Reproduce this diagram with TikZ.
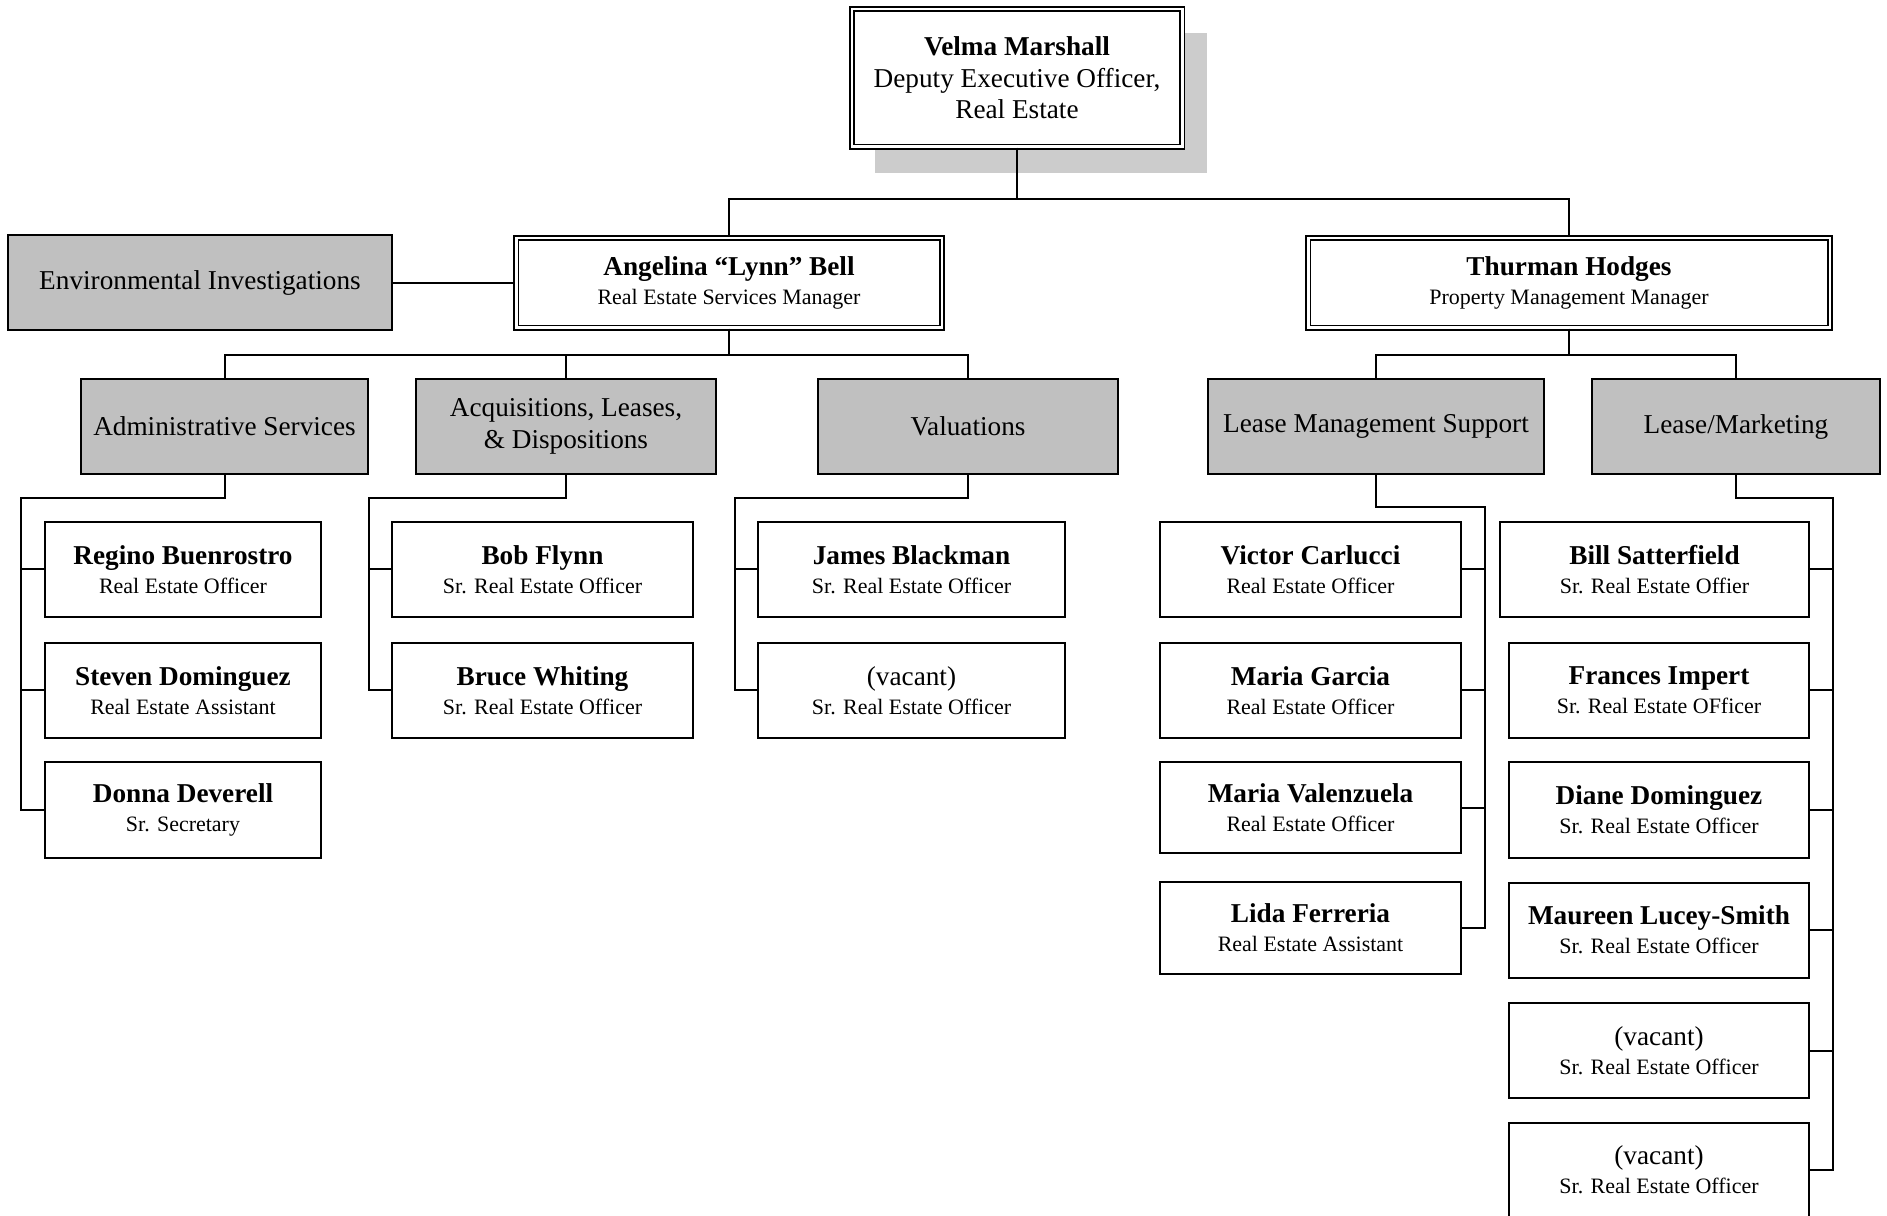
\documentclass[tikz,border=0pt]{standalone}
\usepackage{fontspec}
\setmainfont{Liberation Serif}
\usetikzlibrary{backgrounds}
\newcommand{\rolesize}{\fontsize{12.5}{15}\selectfont}

\begin{document}
\begin{tikzpicture}[
  x=0.2mm,
  y=-0.2mm,
  font=\fontsize{15.5}{16.5}\selectfont,
  box/.style={draw=black,line width=0.4mm,fill=white,align=center,
    inner sep=0pt,minimum height=19mm},
  head/.style={box,double=white,double distance=0.5mm,line width=0.35mm,
    minimum height=17.9mm},
  dept/.style={box,fill=deptgray,font=\fontsize{15.5}{18}\selectfont},
  staff/.style={box},
  link/.style={draw=black,line width=0.4mm}
]
  \definecolor{deptgray}{HTML}{C0C0C0}
  \definecolor{shadowgray}{HTML}{CCCCCC}

  \useasboundingbox (0,0) rectangle (1887,1216);

  \node[head,minimum width=66.1mm,minimum height=27.5mm,
    font=\fontsize{15.5}{18}\selectfont] (velma) at (1017,78)
    {\textbf{Velma Marshall}\\Deputy Executive Officer,\\Real Estate};
  \begin{scope}[on background layer]
    \fill[shadowgray] ([shift={(24,25)}]velma.south west)
      rectangle ([shift={(24,25)}]velma.north east);
  \end{scope}

  \node[head,minimum width=85.1mm] (bell) at (729,283)
    {\textbf{Angelina “Lynn” Bell}\\{\rolesize Real Estate Services Manager}};
  \node[head,minimum width=104.3mm] (hodges) at (1569,283)
    {\textbf{Thurman Hodges}\\{\rolesize Property Management Manager}};
  \node[dept,minimum width=76.8mm] (env) at (200,283)
    {Environmental Investigations};

  \node[dept,minimum width=57.4mm] (admin) at (224.5,426.5)
    {Administrative Services};
  \node[dept,minimum width=60mm] (acq) at (566,426.5)
    {Acquisitions, Leases,\\\& Dispositions};
  \node[dept,minimum width=60mm] (val) at (968,426.5) {Valuations};
  \node[dept,minimum width=67.2mm] (lms) at (1376,426.5)
    {Lease Management Support};
  \node[dept,minimum width=57.6mm] (lm) at (1736,426.5) {Lease/Marketing};

  % Administrative Services
  \node[staff,minimum width=55.2mm] (regino) at (183,569.5)
    {\textbf{Regino Buenrostro}\\{\rolesize Real Estate Officer}};
  \node[staff,minimum width=55.2mm] (steven) at (183,690.5)
    {\textbf{Steven Dominguez}\\{\rolesize Real Estate Assistant}};
  \node[staff,minimum width=55.2mm] (donna) at (183,810)
    {\textbf{Donna Deverell}\\{\rolesize Sr. Secretary}};

  % Acquisitions
  \node[staff,minimum width=60.2mm] (flynn) at (542.5,569.5)
    {\textbf{Bob Flynn}\\{\rolesize Sr. Real Estate Officer}};
  \node[staff,minimum width=60.2mm] (whiting) at (542.5,690.5)
    {\textbf{Bruce Whiting}\\{\rolesize Sr. Real Estate Officer}};

  % Valuations
  \node[staff,minimum width=61.4mm] (blackman) at (911.5,569.5)
    {\textbf{James Blackman}\\{\rolesize Sr. Real Estate Officer}};
  \node[staff,minimum width=61.4mm] (valvacant) at (911.5,690.5)
    {(vacant)\\{\rolesize Sr. Real Estate Officer}};

  % Lease Management Support
  \node[staff,minimum width=60.2mm] (carlucci) at (1310.5,569.5)
    {\textbf{Victor Carlucci}\\{\rolesize Real Estate Officer}};
  \node[staff,minimum width=60.2mm] (garcia) at (1310.5,690.5)
    {\textbf{Maria Garcia}\\{\rolesize Real Estate Officer}};
  \node[staff,minimum width=60.2mm,minimum height=18.2mm] (valenzuela)
    at (1310.5,807.5)
    {\textbf{Maria Valenzuela}\\{\rolesize Real Estate Officer}};
  \node[staff,minimum width=60.2mm,minimum height=18.4mm] (ferreria)
    at (1310.5,928)
    {\textbf{Lida Ferreria}\\{\rolesize Real Estate Assistant}};

  % Lease/Marketing
  \node[staff,minimum width=61.8mm] (satterfield) at (1654.5,569.5)
    {\textbf{Bill Satterfield}\\{\rolesize Sr. Real Estate Offier}};
  \node[staff,minimum width=60mm] (impert) at (1659,690.5)
    {\textbf{Frances Impert}\\{\rolesize Sr. Real Estate OFficer}};
  \node[staff,minimum width=60mm] (diane) at (1659,810)
    {\textbf{Diane Dominguez}\\{\rolesize Sr. Real Estate Officer}};
  \node[staff,minimum width=60mm] (lucey) at (1659,930)
    {\textbf{Maureen Lucey-Smith}\\{\rolesize Sr. Real Estate Officer}};
  \node[staff,minimum width=60mm] (lmvacanta) at (1659,1050.5)
    {(vacant)\\{\rolesize Sr. Real Estate Officer}};
  \node[staff,minimum width=60mm] (lmvacantb) at (1659,1170)
    {(vacant)\\{\rolesize Sr. Real Estate Officer}};

  \coordinate (topbus) at (1017,199);
  \coordinate (bellbus) at (729,355);
  \coordinate (hodgesbus) at (1569,355);
  \coordinate (adminbus) at (20.5,498);
  \coordinate (acqbus) at (369,498);
  \coordinate (valbus) at (735,498);
  \coordinate (lmsbus) at (1485,507);
  \coordinate (lmbus) at (1833,498);

  \draw[link] (velma.south) -- (topbus) -| (bell.north);
  \draw[link] (topbus) -| (hodges.north);
  \draw[link] (env.east) -- (bell.west);

  \draw[link] (bell.south) -- (bellbus) -| (admin.north);
  \draw[link] (bellbus) -| (acq.north);
  \draw[link] (bellbus) -| (val.north);
  \draw[link] (hodges.south) -- (hodgesbus) -| (lms.north);
  \draw[link] (hodgesbus) -| (lm.north);

  \draw[link] (admin.south) |- (adminbus) |- (donna.west);
  \draw[link] (adminbus |- regino.west) -- (regino.west);
  \draw[link] (adminbus |- steven.west) -- (steven.west);

  \draw[link] (acq.south) |- (acqbus) |- (whiting.west);
  \draw[link] (acqbus |- flynn.west) -- (flynn.west);

  \draw[link] (val.south) |- (valbus) |- (valvacant.west);
  \draw[link] (valbus |- blackman.west) -- (blackman.west);

  \draw[link] (lms.south) |- (lmsbus) |- (ferreria.east);
  \draw[link] (lmsbus |- carlucci.east) -- (carlucci.east);
  \draw[link] (lmsbus |- garcia.east) -- (garcia.east);
  \draw[link] (lmsbus |- valenzuela.east) -- (valenzuela.east);

  \draw[link] (lm.south) |- (lmbus) |- (lmvacantb.east);
  \draw[link] (lmbus |- satterfield.east) -- (satterfield.east);
  \draw[link] (lmbus |- impert.east) -- (impert.east);
  \draw[link] (lmbus |- diane.east) -- (diane.east);
  \draw[link] (lmbus |- lucey.east) -- (lucey.east);
  \draw[link] (lmbus |- lmvacanta.east) -- (lmvacanta.east);
\end{tikzpicture}
\end{document}
